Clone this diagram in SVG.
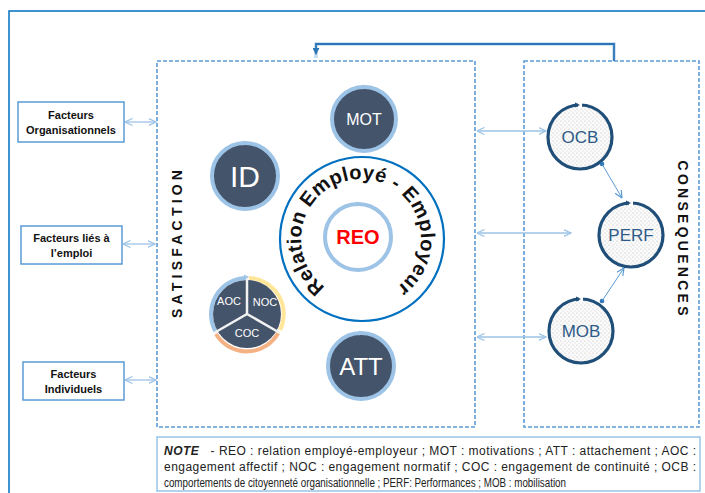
<svg xmlns="http://www.w3.org/2000/svg" width="705" height="493" viewBox="0 0 705 493">
<style>
.frame{fill:none;stroke:#0070c0;stroke-width:1.5}
.dash{fill:none;stroke:#5b9bd5;stroke-width:1.6;stroke-dasharray:4 2}
.fbox{fill:#fff;stroke:#5b9bd5;stroke-width:1.5}
.ftxt{font-family:"Liberation Sans",Arial,sans-serif;font-weight:bold;font-size:11px;fill:#111;text-anchor:middle}
.dark{fill:#44546a}
.ring{fill:none;stroke:#9dc3e6;stroke-width:4}
.wt{font-family:"Liberation Sans",Arial,sans-serif;fill:#fff;text-anchor:middle}
.cons{fill:url(#dots);stroke:#1f4e79;stroke-width:3.2}
.ct{font-family:"Liberation Sans",Arial,sans-serif;font-size:17px;fill:#2e5a88;text-anchor:middle}
.dbl{fill:none;stroke:#9dc3e6;stroke-width:1.3;marker-start:url(#open);marker-end:url(#open)}
.lbl{font-family:"Liberation Sans",Arial,sans-serif;font-weight:bold;font-size:14px;fill:#111;text-anchor:middle}
.note{font-family:"Liberation Sans Narrow","Liberation Sans",Arial,sans-serif;font-size:12px;fill:#222}
</style>
<defs>
<pattern id="dots" width="4" height="4" patternUnits="userSpaceOnUse">
<rect width="4" height="4" fill="#fbfbfb"/>
<circle cx="1" cy="1" r="0.6" fill="#b8b8b8"/>
<circle cx="3" cy="3" r="0.6" fill="#cfcfcf"/>
</pattern>
<marker id="open" viewBox="0 0 8 8" refX="7.5" refY="4" markerWidth="8" markerHeight="8" markerUnits="userSpaceOnUse" orient="auto-start-reverse">
<path d="M0,0.5 L7.5,4 L0,7.5" fill="none" stroke="#9dc3e6" stroke-width="1.2"/>
</marker>
<marker id="open2" viewBox="0 0 8 8" refX="7.5" refY="4" markerWidth="8" markerHeight="8" markerUnits="userSpaceOnUse" orient="auto">
<path d="M0,0.5 L7.5,4 L0,7.5" fill="none" stroke="#5b9bd5" stroke-width="1.2"/>
</marker>
<marker id="solid" viewBox="0 0 8 8" refX="7" refY="4" markerWidth="7" markerHeight="7" markerUnits="userSpaceOnUse" orient="auto">
<path d="M0,0 L8,4 L0,8 Z" fill="#2e75b6"/>
</marker>
<path id="arcText" d="M361,299 A60,60 0 1 1 361,179 A60,60 0 1 1 361,299"/>
</defs>

<!-- outer frame -->
<path class="frame" d="M705,11 L9,11 L9,493"/>

<!-- containers -->
<g id="satisfaction">
<rect class="dash" x="157" y="61" width="318" height="366"/>
<text class="lbl" transform="translate(182,244) rotate(-90)" textLength="148" lengthAdjust="spacing">SATISFACTION</text>
</g>
<g id="consequences">
<rect class="dash" x="524" y="61" width="175" height="366"/>
<text class="lbl" transform="translate(678,238) rotate(90)" textLength="155" lengthAdjust="spacing">CONSEQUENCES</text>
</g>

<!-- factor boxes -->
<g id="f-org">
<rect class="fbox" x="18" y="102" width="106" height="40"/>
<text class="ftxt" x="71" y="119">Facteurs</text>
<text class="ftxt" x="71" y="134">Organisationnels</text>
</g>
<g id="f-emploi">
<rect class="fbox" x="21" y="226" width="101" height="38"/>
<text class="ftxt" x="71.5" y="242">Facteurs liés à</text>
<text class="ftxt" x="71.5" y="257">l’emploi</text>
</g>
<g id="f-ind">
<rect class="fbox" x="23" y="362" width="101" height="38"/>
<text class="ftxt" x="73.5" y="378">Facteurs</text>
<text class="ftxt" x="73.5" y="393">Individuels</text>
</g>

<!-- dark circles -->
<g id="MOT">
<circle class="dark" cx="364" cy="119" r="31"/>
<circle class="ring" cx="364" cy="119" r="32"/>
<path d="M362,84.5 L367,87 L362,89.5 Z" fill="#9dc3e6"/>
<text class="wt" x="364" y="125" font-size="16">MOT</text>
</g>
<g id="ID">
<circle class="dark" cx="245" cy="176" r="32"/>
<circle class="ring" cx="245" cy="176" r="33"/>
<path d="M243,140.5 L248,143 L243,145.5 Z" fill="#9dc3e6"/>
<text class="wt" x="245" y="187" font-size="30">ID</text>
</g>
<g id="ATT">
<circle class="dark" cx="361" cy="366" r="32"/>
<circle class="ring" cx="361" cy="366" r="33"/>
<path d="M359,330.5 L364,333 L359,335.5 Z" fill="#9dc3e6"/>
<text class="wt" x="361" y="375" font-size="24">ATT</text>
</g>

<!-- commitment pie -->
<g id="AOC-NOC-COC">
<path d="M215.8,332 A36,36 0 0 1 247,278" fill="none" stroke="#9dc3e6" stroke-width="4"/>
<path d="M249,278 A36,36 0 0 1 280,330" fill="none" stroke="#ffe699" stroke-width="4"/>
<path d="M278.2,333 A36,36 0 0 1 216,334" fill="none" stroke="#f4b183" stroke-width="4"/>
<circle class="dark" cx="247" cy="314" r="34"/>
<path d="M247,314 L247,276 M247,314 L214,333 M247,314 L280,333" stroke="#f2f2f2" stroke-width="2.5"/>
<path d="M244,274.5 L249,277 L244,279.5 Z" fill="#9dc3e6"/>
<text class="wt" x="229" y="305" font-size="11">AOC</text>
<text class="wt" x="265" y="306" font-size="11">NOC</text>
<text class="wt" x="247" y="337" font-size="11">COC</text>
</g>

<!-- central relation -->
<g id="REO">
<circle cx="362" cy="239" r="82" fill="#fff" stroke="#0070c0" stroke-width="2.2"/>
<circle cx="358" cy="237" r="33" fill="#fff" stroke="#9dc3e6" stroke-width="4"/>
<path d="M356,201.5 L361,204 L356,206.5 Z" fill="#9dc3e6"/>
<text x="358" y="244" font-family="'Liberation Sans',Arial,sans-serif" font-weight="bold" font-size="20" fill="#ff0000" text-anchor="middle">REO</text>
<text font-family="'Liberation Sans',Arial,sans-serif" font-weight="bold" font-size="20" fill="#111" textLength="300" lengthAdjust="spacing"><textPath href="#arcText" startOffset="50%" text-anchor="middle">Relation Employé - Employeur</textPath></text>
</g>

<!-- consequence circles -->
<g id="OCB">
<circle class="cons" cx="580" cy="137" r="32"/>
<rect x="578" y="102" width="4" height="6" fill="#fff"/>
<path d="M575,102.5 L580,105 L575,107.5 Z" fill="#1f4e79"/>
<text class="ct" x="580" y="143">OCB</text>
</g>
<g id="PERF">
<circle class="cons" cx="631" cy="235" r="32"/>
<rect x="629" y="200" width="4" height="6" fill="#fff"/>
<path d="M626,200.5 L631,203 L626,205.5 Z" fill="#1f4e79"/>
<text class="ct" x="631" y="241">PERF</text>
</g>
<g id="MOB">
<circle class="cons" cx="581" cy="331" r="32"/>
<rect x="579" y="296" width="4" height="6" fill="#fff"/>
<path d="M576,296.5 L581,299 L576,301.5 Z" fill="#1f4e79"/>
<text class="ct" x="581" y="337">MOB</text>
</g>

<!-- note -->
<g id="note">
<rect x="157" y="437" width="543" height="54" fill="#fff" stroke="#9dc3e6" stroke-width="1.5"/>
<text class="note" x="164" y="455" textLength="532" lengthAdjust="spacing"><tspan font-weight="bold" font-style="italic">NOTE</tspan>&#160;&#160;&#160;- REO : relation employé-employeur ; MOT : motivations ; ATT : attachement ; AOC :</text>
<text class="note" x="164" y="471" textLength="532" lengthAdjust="spacing">engagement affectif ; NOC : engagement normatif ; COC : engagement de continuité ; OCB :</text>
<text class="note" x="164" y="487" font-size="12.5" textLength="402" lengthAdjust="spacingAndGlyphs">comportements de citoyenneté organisationnelle ; PERF: Performances ; MOB : mobilisation</text>
</g>

<!-- connectors -->
<g id="connectors">
<path d="M614,61 L614,44 L316,44 L316,58" fill="none" stroke="#9dc3e6" stroke-width="3.5" opacity="0.6"/>
<path d="M614,61 L614,44 L316,44 L316,54" fill="none" stroke="#2e75b6" stroke-width="1.8" marker-end="url(#solid)"/>
<line class="dbl" x1="125" y1="122" x2="156" y2="122"/>
<line class="dbl" x1="123" y1="244" x2="155" y2="244"/>
<line class="dbl" x1="125" y1="380" x2="156" y2="380"/>
<line class="dbl" x1="477" y1="131" x2="546" y2="131"/>
<line class="dbl" x1="477" y1="233" x2="571" y2="233"/>
<line class="dbl" x1="477" y1="337" x2="546" y2="337"/>
<circle cx="602" cy="164" r="2.3" fill="#2e75b6"/>
<line x1="602" y1="164" x2="622" y2="198" stroke="#5b9bd5" stroke-width="1" marker-end="url(#open2)"/>
<circle cx="602" cy="301" r="2.3" fill="#2e75b6"/>
<line x1="602" y1="301" x2="624" y2="268" stroke="#5b9bd5" stroke-width="1" marker-end="url(#open2)"/>
</g>
</svg>
